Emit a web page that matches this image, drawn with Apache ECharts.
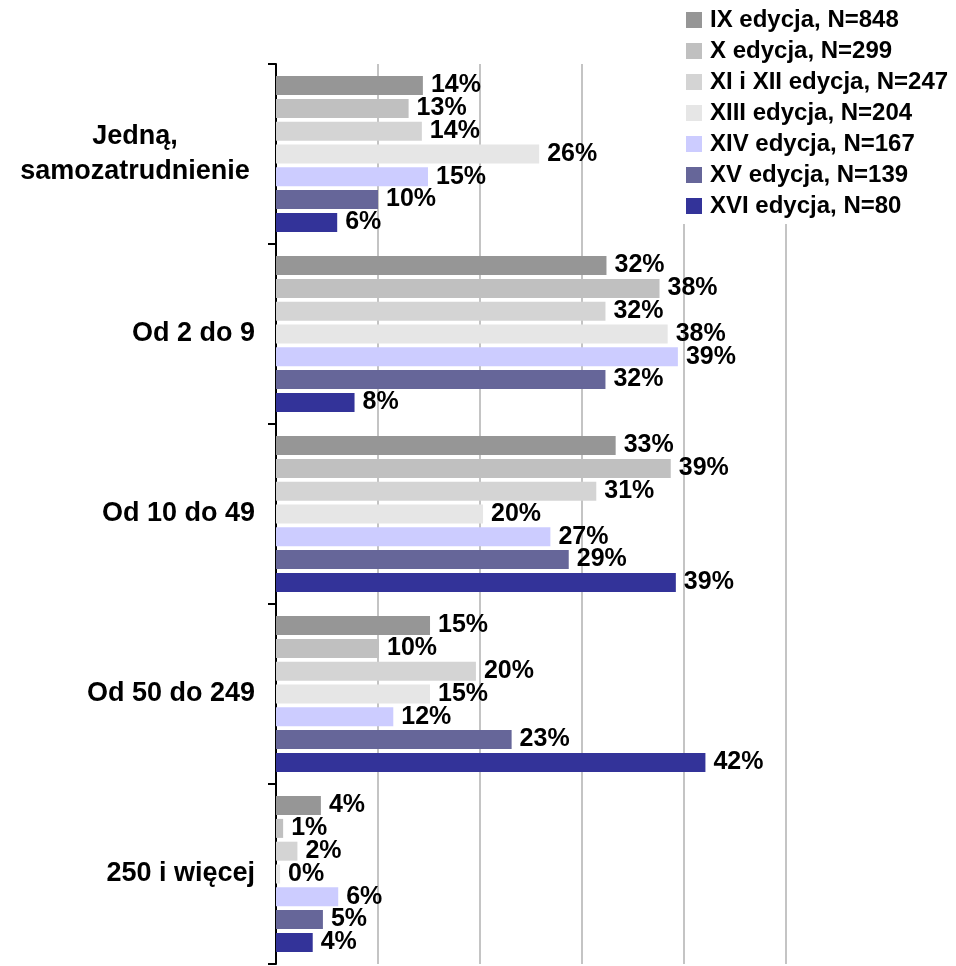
<!DOCTYPE html>
<html>
<head>
<meta charset="utf-8">
<script src="https://cdn.jsdelivr.net/npm/echarts@6/dist/echarts.min.js"></script>
<style>
html,body{margin:0;padding:0;background:#fff;}
#chart{width:956px;height:966px;}
</style>
</head>
<body>
<div id="chart"></div>
<script>
const categories = ['Jedną,\nsamozatrudnienie', 'Od 2 do 9', 'Od 10 do 49', 'Od 50 do 249', '250 i więcej'];
const seriesNames = ['IX edycja, N=848', 'X edycja, N=299', 'XI i XII edycja, N=247', 'XIII edycja, N=204', 'XIV edycja, N=167', 'XV edycja, N=139', 'XVI edycja, N=80'];
const ix    = [14.4, 32.4, 33.3, 15.1, 4.4];
const x     = [13.0, 37.6, 38.7, 10.1, 0.7];
const xixii = [14.3, 32.3, 31.4, 19.6, 2.1];
const xiii  = [25.8, 38.4, 20.3, 15.1, 0.4];
const xiv   = [14.9, 39.4, 26.9, 11.5, 6.1];
const xv    = [10.0, 32.3, 28.7, 23.1, 4.6];
const xvi   = [6.0, 7.7, 39.2, 42.1, 3.6];
const seriesValues = [ix, x, xixii, xiii, xiv, xv, xvi];
const colors = ['#969696', '#C0C0C0', '#D4D4D4', '#E6E6E6', '#CCCCFF', '#666699', '#333399'];

const FONT = '"Liberation Sans", Arial, sans-serif';
const chart = echarts.init(document.getElementById('chart'), null, {renderer: 'canvas'});
chart.setOption({
  backgroundColor: '#ffffff',
  animation: false,
  color: colors,
  legend: {
    orient: 'vertical',
    left: 678,
    top: 2,
    padding: [6, 10, 6, 8],
    backgroundColor: '#ffffff',
    itemWidth: 16,
    itemHeight: 16,
    itemGap: 7,
    icon: 'rect',
    data: seriesNames,
    textStyle: {fontFamily: FONT, fontSize: 24, fontWeight: 'bold', color: '#000', padding: [0, 0, 0, 3]}
  },
  grid: {left: 276, right: 170, top: 64, bottom: 2, containLabel: false},
  xAxis: {
    type: 'value', min: 0, max: 50, interval: 10,
    axisLabel: {show: false},
    axisLine: {show: false},
    axisTick: {show: false},
    splitLine: {show: true, lineStyle: {color: '#c4c4c4', width: 2}}
  },
  yAxis: {
    type: 'category',
    inverse: true,
    data: categories,
    axisLine: {show: true, lineStyle: {color: '#000', width: 2}},
    axisTick: {show: true, length: 8, lineStyle: {color: '#000', width: 2}},
    axisLabel: {
      margin: 21,
      fontFamily: FONT, fontSize: 27, fontWeight: 'bold', color: '#000',
      align: 'right',
      formatter: function (v) {
        if (v.indexOf('\n') >= 0) {
          return v.split('\n').map(function (s) { return '{c|' + s + '}'; }).join('\n');
        }
        return v;
      },
      rich: {
        c: {width: 240, align: 'center', fontFamily: FONT, fontSize: 27, fontWeight: 'bold', color: '#000', lineHeight: 35}
      }
    }
  },
  series: seriesNames.map(function (name, i) {
    return {
      name: name,
      type: 'bar',
      data: seriesValues[i],
      barWidth: 19,
      barGap: '20%',
      itemStyle: {color: colors[i]},
      label: {
        show: true, position: 'right', distance: 8,
        fontFamily: FONT, fontSize: 25, fontWeight: 'bold', color: '#000',
        formatter: function (p) { return Math.round(p.value) + '%'; }
      }
    };
  })
});
</script>
</body>
</html>
